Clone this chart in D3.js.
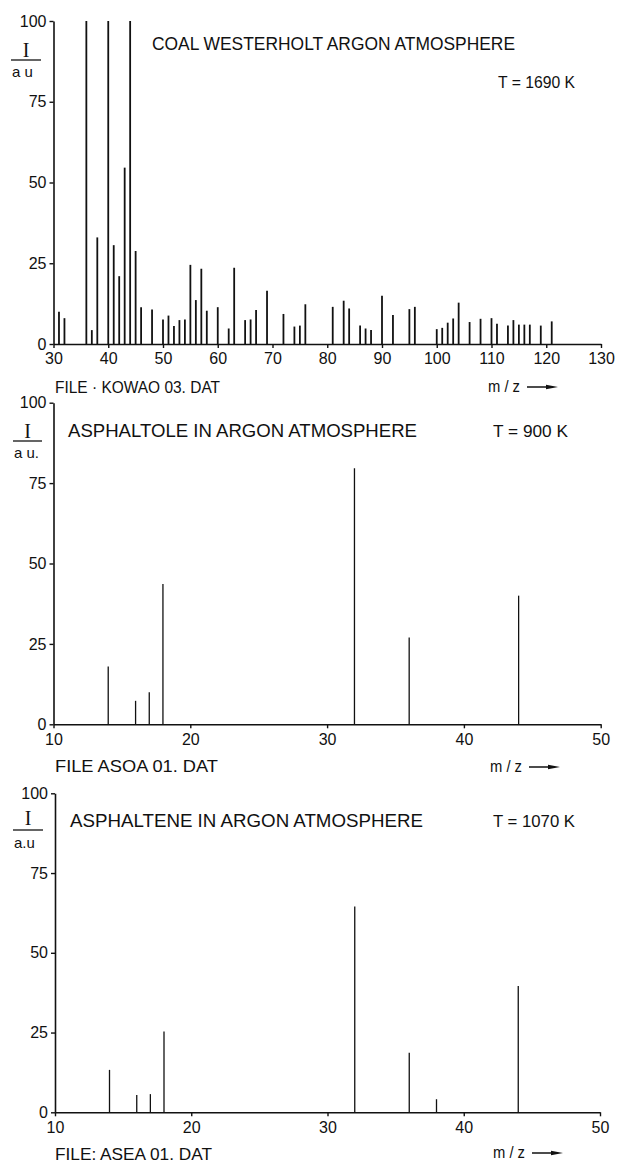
<!DOCTYPE html>
<html>
<head>
<meta charset="utf-8">
<script src="https://cdn.jsdelivr.net/npm/d3@7"></script>
<style>
  html, body { margin: 0; padding: 0; background: #fff; }
  svg { display: block; }
  .tick text { font-family: "Liberation Sans", Arial, sans-serif; font-size: 16px; fill: #111; }
  .lbl { font-family: "Liberation Sans", Arial, sans-serif; fill: #111; }
  .serif { font-family: "Liberation Serif", "DejaVu Serif", serif; fill: #111; }
</style>
</head>
<body>
<svg id="chart" width="619" height="1164"></svg>
<script>
// ---------- data ----------
const coalMz = [31,32,36,37,38,40,41,42,43,44,45,46,48,50,51,52,53,54,55,56,57,58,60,62,63,65,66,67,69,72,74,75,76,81,83,84,86,87,88,90,92,95,96,100,101,102,103,104,106,108,110,111,113,114,115,116,117,119,121];
const coalI  = [10,8,100,4.3,33,100,30.6,21,54.6,100,28.8,11.4,10.7,7.6,8.8,5.6,7.4,7.6,24.5,13.6,23.3,10.3,11.4,4.8,23.6,7.4,7.6,10.5,16.5,9.3,5.4,5.7,12.3,11.5,13.4,11,5.7,4.8,4.3,14.9,9,10.8,11.5,4.6,5,6.6,7.9,12.8,6.8,7.8,8,6.3,5.7,7.4,6,6,6,5.7,7];

const asoaMz = [14,16,17,18,32,36,44];
const asoaI  = [18,7.3,10,43.6,79.6,27,40];

const aseaMz = [14,16,17,18,32,36,38,44];
const aseaI  = [13.3,5.4,5.7,25.3,64.5,18.7,4.1,39.6];

const coalTicks = [30,40,50,60,70,80,90,100,110,120,130];
const asTicks   = [10,20,30,40,50];
const yTicks    = [0,25,50,75,100];

const titles = ["COAL WESTERHOLT ARGON ATMOSPHERE", "ASPHALTOLE IN ARGON ATMOSPHERE", "ASPHALTENE IN ARGON ATMOSPHERE"];
const temps  = ["T = 1690 K", "T =  900 K", "T = 1070 K"];
const files  = ["FILE · KOWAO 03. DAT", "FILE  ASOA 01. DAT", "FILE: ASEA 01. DAT"];
const units  = ["a u", "a u.", "a.u"];

// ---------- drawing ----------
const svg = d3.select("#chart");

const panels = [
  { mz: coalMz, I: coalI, xdom: [30,130], ticks: coalTicks, x0: 53.5, x1: 601, y0: 344, y1: 21, bw: 1.8,
    title: { x: 152, y: 50, w: 363, fs: 18 }, temp: { x: 498, y: 88, w: 77 }, file: { x: 55, y: 393, w: 165 },
    mzl: { x: 488, y: 392 }, frac: { iy: 57, ly: 60, uy: 77, lx0: 11, lx1: 41 } },
  { mz: asoaMz, I: asoaI, xdom: [10,50], ticks: asTicks, x0: 53.5, x1: 600.7, y0: 724.3, y1: 402.7, bw: 1.3,
    title: { x: 68, y: 437, w: 349, fs: 18 }, temp: { x: 493, y: 437, w: 75 }, file: { x: 55, y: 772, w: 163 },
    mzl: { x: 490, y: 772 }, frac: { iy: 438, ly: 441, uy: 458, lx0: 13, lx1: 42 } },
  { mz: aseaMz, I: aseaI, xdom: [10,50], ticks: asTicks, x0: 55, x1: 600, y0: 1112.3, y1: 793.3, bw: 1.3,
    title: { x: 70, y: 827, w: 353, fs: 18 }, temp: { x: 493, y: 827, w: 82 }, file: { x: 55, y: 1160, w: 157 },
    mzl: { x: 493, y: 1158 }, frac: { iy: 825, ly: 830, uy: 848, lx0: 13, lx1: 43 } }
];

panels.forEach((p, k) => {
  const x = d3.scaleLinear().domain(p.xdom).range([p.x0, p.x1]);
  const y = d3.scaleLinear().domain([0, 100]).range([p.y0, p.y1]);
  const g = svg.append("g");

  // bars (stick spectrum)
  g.selectAll("line.bar").data(p.mz.map((m, i) => ({ m, v: p.I[i] }))).join("line")
    .attr("class", "bar")
    .attr("x1", d => x(d.m)).attr("x2", d => x(d.m))
    .attr("y1", y(0)).attr("y2", d => y(d.v))
    .attr("stroke", "#111").attr("stroke-width", p.bw);

  // y axis
  const ya = g.append("g").attr("transform", `translate(${x(p.xdom[0])},0)`)
    .call(d3.axisLeft(y).tickValues(yTicks).tickSize(4).tickSizeOuter(0).tickPadding(3));
  ya.select(".domain").attr("stroke", "#111").attr("stroke-width", 1.6);
  ya.selectAll(".tick line").attr("stroke", "#111").attr("stroke-width", 1.4);

  // x axis
  const xa = g.append("g").attr("transform", `translate(0,${y(0)})`)
    .call(d3.axisBottom(x).tickValues(p.ticks).tickSize(4).tickSizeOuter(0).tickPadding(5));
  xa.select(".domain").attr("stroke", "#111").attr("stroke-width", 1.6);
  xa.selectAll(".tick line").attr("stroke", "#111").attr("stroke-width", 1.4);

  // title, temperature, file name
  g.append("text").attr("class", "lbl").attr("x", p.title.x).attr("y", p.title.y)
    .attr("font-size", p.title.fs).attr("textLength", p.title.w).attr("lengthAdjust", "spacingAndGlyphs")
    .text(titles[k]);
  g.append("text").attr("class", "lbl").attr("x", p.temp.x).attr("y", p.temp.y)
    .attr("font-size", 17).attr("textLength", p.temp.w).attr("lengthAdjust", "spacingAndGlyphs")
    .text(temps[k]);
  g.append("text").attr("class", "lbl").attr("x", p.file.x).attr("y", p.file.y)
    .attr("font-size", 17).attr("textLength", p.file.w).attr("lengthAdjust", "spacingAndGlyphs")
    .text(files[k]);

  // m/z label with arrow
  g.append("text").attr("class", "lbl").attr("x", p.mzl.x).attr("y", p.mzl.y)
    .attr("font-size", 16).attr("textLength", 32).attr("lengthAdjust", "spacingAndGlyphs")
    .text("m / z");
  const ay = p.mzl.y - 5;
  g.append("line").attr("x1", p.mzl.x + 39).attr("x2", p.mzl.x + 62).attr("y1", ay).attr("y2", ay)
    .attr("stroke", "#111").attr("stroke-width", 1.5);
  g.append("path").attr("d", `M${p.mzl.x + 58},${ay - 2.2} L${p.mzl.x + 70},${ay} L${p.mzl.x + 58},${ay + 2.2} Z`)
    .attr("fill", "#111");

  // ordinate unit fraction I / a u
  g.append("text").attr("class", "serif").attr("x", (p.frac.lx0 + p.frac.lx1) / 2).attr("y", p.frac.iy)
    .attr("text-anchor", "middle").attr("font-size", 20)
    .text("I");
  g.append("line").attr("x1", p.frac.lx0).attr("x2", p.frac.lx1).attr("y1", p.frac.ly).attr("y2", p.frac.ly)
    .attr("stroke", "#111").attr("stroke-width", 1.3);
  g.append("text").attr("class", "lbl").attr("x", p.frac.lx0 + 1).attr("y", p.frac.uy)
    .attr("font-size", 15).text(units[k]);
});
</script>
</body>
</html>
